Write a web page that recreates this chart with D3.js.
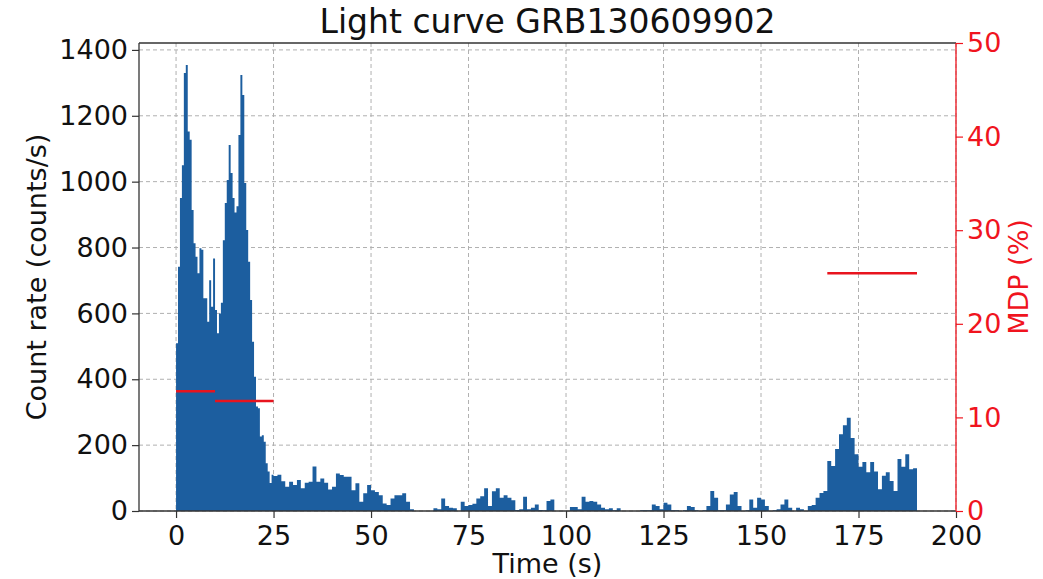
<!DOCTYPE html>
<meta charset="utf-8">
<script src="https://d3js.org/d3.v7.min.js"></script>
<style>
	body{
		margin:0;
		background:#fff;
		font-family:'DejaVu Sans', sans-serif;
	}
	.grid line{
		stroke:#b0b0b0;
		stroke-dasharray:4,3;
		stroke-width:1;
	}
</style>
<div id="chart"></div>
<script>
	// count rate, 0.5 s bins from t = 0 to 25 s
	var burstStart = 0
	var burstStep = 0.5
	var burstCounts = [509,742,950,1050,1330,1354,1152,1127,914,813,
		772,722,798,793,646,646,575,701,620,767,
		610,540,600,632,822,935,1005,1111,1026,950,
		906,925,1142,1324,1263,996,853,757,641,514,
		408,317,312,226,230,210,145,120,85,110]

	// count rate, 1 s bins from t = 25 to 190 s
	var tailStart = 25
	var tailStep = 1
	var tailCounts = [106,110,90,74,89,79,94,69,86,89,
		135,89,99,86,65,74,114,109,104,104,
		63,84,28,54,79,63,58,48,23,18,
		38,48,48,54,28,5,0,0,0,0,
		0,8,5,38,15,10,8,0,28,15,
		18,22,38,45,69,15,60,69,40,48,
		40,33,3,5,43,5,10,20,3,2,
		30,35,0,0,0,0,12,12,5,43,
		28,30,28,20,10,5,8,2,8,0,
		0,0,0,0,2,2,2,20,15,5,
		25,20,2,2,0,2,15,12,2,0,
		2,15,61,40,2,2,20,50,58,15,
		0,2,35,10,40,35,15,0,2,5,
		20,35,10,0,10,5,0,15,18,40,
		55,61,152,137,188,233,260,283,222,172,
		134,149,118,149,120,66,107,118,91,61,
		158,134,172,127,130]

	// MDP segments (right axis)
	var mdpStart = [0,10,167]
	var mdpEnd = [10,25,190]
	var mdpValues = [12.8,11.75,25.4]

	var xTicks = [0,25,50,75,100,125,150,175,200]
	var yTicks = [0,200,400,600,800,1000,1200,1400]
	var y2Ticks = [0,10,20,30,40,50]

	var title = "Light curve GRB130609902"

	var w = 1043
	var h = 579
	var mLeft = 139, mRight = 956, mTop = 43, mBottom = 511

	var bins = []
	burstCounts.forEach(function(c,i){
		bins.push({t0:burstStart+i*burstStep, t1:burstStart+(i+1)*burstStep, c:c})
	})
	tailCounts.forEach(function(c,i){
		bins.push({t0:tailStart+i*tailStep, t1:tailStart+(i+1)*tailStep, c:c})
	})

	var x = d3.scaleLinear().domain([-9.5,200]).range([mLeft,mRight])
	var y = d3.scaleLinear().domain([0,1421]).range([mBottom,mTop])
	var y2 = d3.scaleLinear().domain([0,50]).range([mBottom,mTop])

	var svg = d3.select("#chart").append("svg").attr("width",w).attr("height",h)

	// grid
	var grid = svg.append("g").attr("class","grid")
	grid.selectAll(".vg").data(xTicks).join("line")
		.attr("x1",function(d){return x(d)}).attr("x2",function(d){return x(d)})
		.attr("y1",mTop).attr("y2",mBottom)
	grid.selectAll(".hg").data(yTicks).join("line")
		.attr("x1",mLeft).attr("x2",mRight)
		.attr("y1",function(d){return y(d)}).attr("y2",function(d){return y(d)})

	// histogram as a step area
	var pts = bins.map(function(b){return {t:b.t0, c:b.c}})
	pts.push({t:bins[bins.length-1].t1, c:bins[bins.length-1].c})
	var area = d3.area()
		.x(function(d){return x(d.t)})
		.y0(y(0))
		.y1(function(d){return y(d.c)})
		.curve(d3.curveStepAfter)
	svg.append("path").datum(pts)
		.attr("d",area)
		.attr("fill","#1c5e9f")
		.attr("stroke","none")

	// MDP lines
	svg.selectAll(".mdp").data(mdpValues).join("line")
		.attr("x1",function(d,i){return x(mdpStart[i])})
		.attr("x2",function(d,i){return x(mdpEnd[i])})
		.attr("y1",function(d){return y2(d)})
		.attr("y2",function(d){return y2(d)})
		.attr("stroke","#e8141e")
		.attr("stroke-width",2.5)

	// axes
	var fs = "27px"
	var xAxis = svg.append("g").attr("transform","translate(0,"+mBottom+")")
		.call(d3.axisBottom(x).tickValues(xTicks).tickSize(7).tickPadding(4))
	var yAxis = svg.append("g").attr("transform","translate("+mLeft+",0)")
		.call(d3.axisLeft(y).tickValues(yTicks).tickFormat(d3.format("d")).tickSize(7).tickPadding(4))
	var y2Axis = svg.append("g").attr("transform","translate("+mRight+",0)")
		.call(d3.axisRight(y2).tickValues(y2Ticks).tickSize(7).tickPadding(4))

	;[xAxis,yAxis,y2Axis].forEach(function(a){
		a.select(".domain").remove()
		a.selectAll("text").style("font-size",fs).style("font-family","'DejaVu Sans', sans-serif")
		a.selectAll("line").attr("stroke-width",1.2)
	})
	xAxis.selectAll("text").attr("dy","0.85em")
	xAxis.selectAll("line").attr("stroke","#333")
	yAxis.selectAll("line").attr("stroke","#333")
	yAxis.selectAll("text").attr("fill","#111")
	xAxis.selectAll("text").attr("fill","#111")
	y2Axis.selectAll("line").attr("stroke","#f0141e")
	y2Axis.selectAll("text").attr("fill","#f0141e")

	// spines
	svg.append("line").attr("x1",mLeft).attr("x2",mLeft).attr("y1",mTop).attr("y2",mBottom).attr("stroke","#333").attr("stroke-width",1.3)
	svg.append("line").attr("x1",mLeft).attr("x2",mRight).attr("y1",mBottom).attr("y2",mBottom).attr("stroke","#333").attr("stroke-width",1.3)
	svg.append("line").attr("x1",mLeft).attr("x2",mRight).attr("y1",mTop).attr("y2",mTop).attr("stroke","#333").attr("stroke-width",1.3)
	svg.append("line").attr("x1",mRight).attr("x2",mRight).attr("y1",mTop).attr("y2",mBottom).attr("stroke","#f0141e").attr("stroke-width",1.3)

	// labels
	svg.append("text").text(title)
		.attr("x",(mLeft+mRight)/2).attr("y",33)
		.attr("text-anchor","middle")
		.style("font-size","33px").attr("fill","#111")
	svg.append("text").text("Time (s)")
		.attr("x",(mLeft+mRight)/2).attr("y",573)
		.attr("text-anchor","middle")
		.style("font-size",fs).attr("fill","#111")
	svg.append("text").text("Count rate (counts/s)")
		.attr("transform","translate(46,"+((mTop+mBottom)/2)+") rotate(-90)")
		.attr("text-anchor","middle")
		.style("font-size",fs).attr("fill","#111")
	svg.append("text").text("MDP (%)")
		.attr("transform","translate(1028,"+((mTop+mBottom)/2)+") rotate(-90)")
		.attr("text-anchor","middle")
		.style("font-size",fs).attr("fill","#f0141e")
</script>
